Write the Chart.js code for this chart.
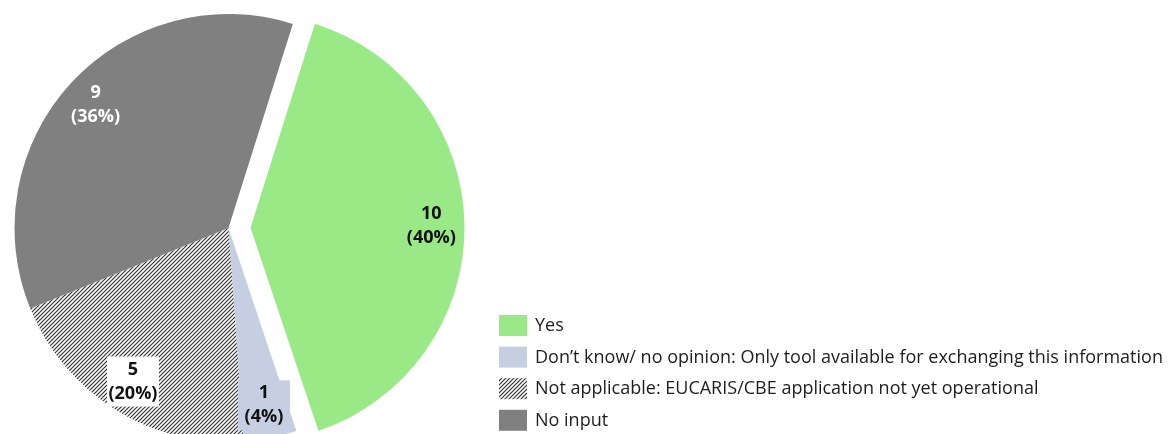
<!DOCTYPE html>
<html>
<head>
<meta charset="utf-8">
<script src="https://cdn.jsdelivr.net/npm/chart.js@4.4.1/dist/chart.umd.min.js"></script>
<style>
  html, body { margin: 0; padding: 0; background: #ffffff; overflow: hidden; }
  #wrap { width: 1168px; height: 434px; overflow: hidden; position: relative; }
  canvas { display: block; }
</style>
</head>
<body>
<div id="wrap"><canvas id="c" width="1168" height="456"></canvas></div>
<script>
// ---- data ----
const categories = [
  "Yes",
  "Don\u2019t know/ no opinion: Only tool available for exchanging this information",
  "Not applicable: EUCARIS/CBE application not yet operational",
  "No input"
];
const counts = [10, 1, 5, 9];
const percentLabels = ["(40%)", "(4%)", "(20%)", "(36%)"];

// ---- styles ----
function makeHatch() {
  const s = 4;
  const c = document.createElement('canvas');
  c.width = s; c.height = s;
  const g = c.getContext('2d');
  g.fillStyle = '#ffffff';
  g.fillRect(0, 0, s, s);
  g.strokeStyle = '#333333';
  g.lineWidth = 1.2;
  g.beginPath();
  g.moveTo(-1, s + 1); g.lineTo(s + 1, -1);
  g.moveTo(-1, 1); g.lineTo(1, -1);
  g.moveTo(s - 1, s + 1); g.lineTo(s + 1, s - 1);
  g.stroke();
  return g.createPattern(c, 'repeat');
}
const hatch = makeHatch();
const sliceColors = ['#99EA86', '#C5CFE1', hatch, '#808080'];
const labelColors = ['#111111', '#111111', '#111111', '#FFFFFF'];
const labelBoxes = [null, '#C5CFE1', '#FFFFFF', null];
const explode = [22, 0, 0, 0];   // pixel shift of each slice away from the centre

// shift exploded slices by a pure translation (keeps the radius unchanged)
const explodePlugin = {
  id: 'explode',
  beforeDatasetsDraw(chart) {
    const meta = chart.getDatasetMeta(0);
    meta.data.forEach((arc, i) => {
      const sh = explode[i] || 0;
      if (!sh || arc.$patched) return;
      const orig = arc.draw;
      arc.draw = function (ctx) {
        const mid = (this.startAngle + this.endAngle) / 2;
        ctx.save();
        ctx.translate(Math.cos(mid) * sh, Math.sin(mid) * sh);
        orig.call(this, ctx);
        ctx.restore();
      };
      arc.$patched = true;
    });
  }
};

const sliceLabels = {
  id: 'sliceLabels',
  afterDatasetsDraw(chart) {
    const ctx = chart.ctx;
    const meta = chart.getDatasetMeta(0);
    const ds = chart.data.datasets[0];
    ctx.save();
    meta.data.forEach((arc, i) => {
      const p = arc.getProps(['x', 'y', 'startAngle', 'endAngle', 'outerRadius'], true);
      const mid = (p.startAngle + p.endAngle) / 2;
      const r = p.outerRadius * 0.845 + (explode[i] || 0);
      const cx = p.x + Math.cos(mid) * r;
      const cy = p.y + Math.sin(mid) * r;
      const l1 = String(ds.data[i]);
      const l2 = percentLabels[i];
      ctx.font = 'bold 18px "Open Sans"';
      if (labelBoxes[i]) {
        ctx.fillStyle = labelBoxes[i];
        ctx.fillRect(cx - 26, cy - 25, 52, 50);
      }
      ctx.fillStyle = labelColors[i];
      ctx.textAlign = 'center';
      ctx.textBaseline = 'middle';
      ctx.fillText(l1, cx, cy - 12);
      ctx.fillText(l2, cx, cy + 12);
    });
    ctx.restore();
  }
};

const sideLegend = {
  id: 'sideLegend',
  afterDraw(chart) {
    const ctx = chart.ctx;
    const ds = chart.data.datasets[0];
    ctx.save();
    chart.data.labels.forEach((lab, i) => {
      const y = 315 + i * 31.6;
      ctx.fillStyle = ds.backgroundColor[i];
      ctx.fillRect(499, y, 28, 21);
      ctx.fillStyle = '#1e1e1e';
      ctx.font = '18px "Open Sans"';
      ctx.textAlign = 'left';
      ctx.textBaseline = 'middle';
      ctx.fillText(lab, 535, y + 11);
    });
    ctx.restore();
  }
};

new Chart(document.getElementById('c'), {
  type: 'pie',
  data: {
    labels: categories,
    datasets: [{
      data: counts,
      backgroundColor: sliceColors,
      borderWidth: 0,
      radius: 214
    }]
  },
  options: {
    responsive: false,
    animation: false,
    devicePixelRatio: 1,
    rotation: 17.5,
    layout: { padding: { left: 0, top: 0, right: 711, bottom: 0 } },
    plugins: {
      legend: { display: false },
      tooltip: { enabled: false }
    }
  },
  plugins: [explodePlugin, sliceLabels, sideLegend]
});
</script>
</body>
</html>
